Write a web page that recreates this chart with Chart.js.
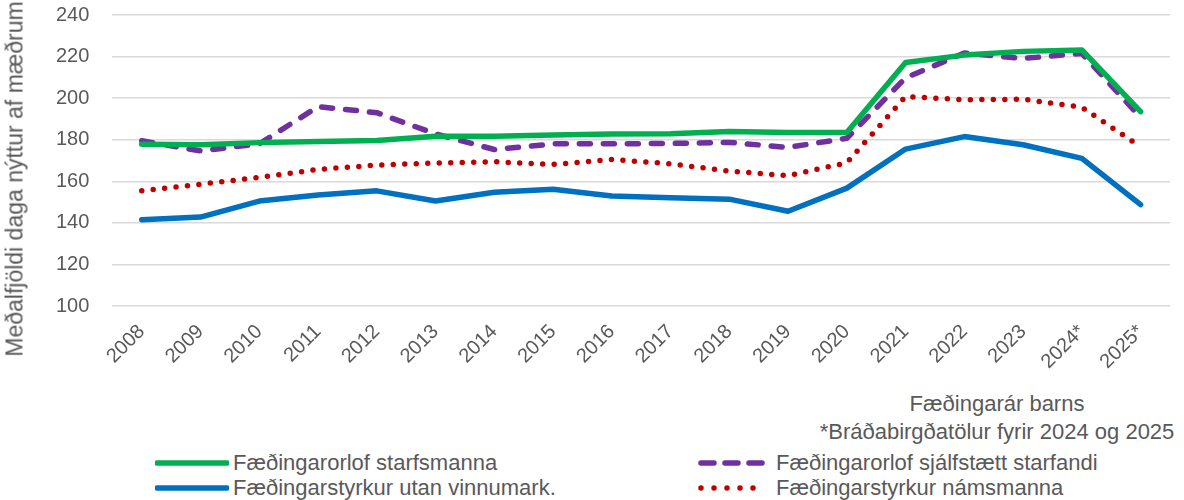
<!DOCTYPE html>
<html lang="is">
<head>
  <meta charset="UTF-8">
  <title>Fæðingarorlof – meðalfjöldi daga</title>
  <script src="https://cdn.jsdelivr.net/npm/chart.js"></script>
  <style>
    body {
      margin: 0;
      background: #fff;
      font-family: "Liberation Sans", Arial, sans-serif;
      color: #595959;
    }
    .wrap {
      position: relative;
      width: 1184px;
      height: 500px;
    }
    .chart-box {
      position: absolute;
      left: 0;
      top: 0;
      width: 1184px;
      height: 372px;
    }
    .ytitle {
      position: absolute;
      left: 15px;
      top: 179px;
      transform: translate(-50%, -50%) rotate(-90deg);
      font-size: 23px;
      white-space: nowrap;
    }
    .xtitle {
      position: absolute;
      left: 797px;
      width: 400px;
      top: 390px;
      text-align: center;
      font-size: 22px;
      line-height: 28px;
    }
    .leg {
      position: absolute;
      display: flex;
      align-items: center;
      font-size: 22px;
      white-space: nowrap;
    }
    .leg svg { margin-right: 4px; }
  </style>
</head>
<body>
  <div class="wrap">
    <div class="chart-box"><canvas id="chart"></canvas></div>
    <div class="ytitle">Meðalfjöldi daga nýttur af mæðrum</div>
    <div class="xtitle">Fæðingarár barns<br>*Bráðabirgðatölur fyrir 2024 og 2025</div>
    <div id="legend"></div>
  </div>

  <script>
    // Ár barns
    const years = ['2008','2009','2010','2011','2012','2013','2014','2015','2016','2017',
                   '2018','2019','2020','2021','2022','2023','2024*','2025*'];

    // Meðalfjöldi daga nýttur af mæðrum
    const starfsmenn  = [177.8,177.6,178.6,179.1,179.6,181.7,181.7,182.3,182.8,182.9,
                         184.0,183.5,183.5,217.1,220.7,222.5,223.2,193.5];
    const sjalfstaett = [179.5,174.6,178.0,195.9,193.0,182.8,175.3,178.0,178.0,178.2,
                         178.7,176.3,180.7,209.8,221.7,219.1,221.5,190.7];
    const utanVinnum  = [141.5,142.8,150.5,153.4,155.4,150.5,154.7,156.2,152.9,152.1,
                         151.4,145.6,156.7,175.5,181.5,177.6,171.0,148.8];
    const namsmenn    = [155.4,158.6,161.9,165.7,167.8,168.8,169.4,168.1,170.5,168.4,
                         164.9,162.7,168.9,200.8,199.2,199.5,195.6,176.6];

    const yTicks = { min: 100, max: 240, step: 20 };

    const series = [
      { label: 'Fæðingarorlof starfsmanna', data: starfsmenn, color: '#00b050', dash: [], left: 155, top: 450 },
      { label: 'Fæðingarorlof sjálfstætt starfandi', data: sjalfstaett, color: '#7030a0', dash: [11, 13], left: 698, top: 450 },
      { label: 'Fæðingarstyrkur utan vinnumark.', data: utanVinnum, color: '#0070c0', dash: [], left: 155, top: 475 },
      { label: 'Fæðingarstyrkur námsmanna', data: namsmenn, color: '#c00000', dash: [0, 11.5], left: 698, top: 475 }
    ];

    // skýringar (legend) í tveimur dálkum eins og í Excel
    const legend = document.getElementById('legend');
    series.forEach(s => {
      const el = document.createElement('div');
      el.className = 'leg';
      el.style.left = s.left + 'px';
      el.style.top = s.top + 'px';
      let dash = '';
      if (s.dash.length) dash = s.dash[0] === 0 ? 'stroke-dasharray="0 13"' : 'stroke-dasharray="13 11"';
      const x1 = s.dash.length ? 3 : 2, x2 = s.dash.length ? 68 : 72;
      el.innerHTML = `<svg width="74" height="26"><line x1="${x1}" y1="13" x2="${x2}" y2="13"
        stroke="${s.color}" stroke-width="5.5" stroke-linecap="round" ${dash}/></svg><span>${s.label}</span>`;
      legend.appendChild(el);
    });

    const ctx = document.getElementById('chart').getContext('2d');
    new Chart(ctx, {
      type: 'line',
      data: {
        labels: years,
        datasets: series.map(s => ({
          label: s.label,
          data: s.data,
          borderColor: s.color,
          backgroundColor: s.color,
          borderWidth: 5.5,
          borderDash: s.dash,
          borderCapStyle: 'round',
          borderJoinStyle: 'round',
          pointRadius: 0,
          tension: 0
        }))
      },
      options: {
        responsive: true,
        maintainAspectRatio: false,
        animation: false,
        layout: { padding: { top: 15, right: 14, left: 33, bottom: 0 } },
        plugins: {
          legend: { display: false },
          tooltip: { enabled: false }
        },
        scales: {
          x: {
            offset: true,
            grid: { display: false },
            border: { display: false },
            afterFit: (scale) => { scale.height = 66; },
            ticks: {
              color: '#595959',
              font: { family: 'Liberation Sans', size: 20 },
              minRotation: 45,
              maxRotation: 45,
              padding: 6
            }
          },
          y: {
            min: yTicks.min,
            max: yTicks.max,
            grid: { color: '#d9d9d9', lineWidth: 1.5, drawTicks: false },
            border: { display: false },
            // stórt bil frá tölum að rist, en ekki aukabil efst/neðst
            afterFit: (scale) => { scale.paddingTop = 10; scale.paddingBottom = 10; },
            ticks: {
              stepSize: yTicks.step,
              color: '#595959',
              font: { family: 'Liberation Sans', size: 20 },
              padding: 23
            }
          }
        }
      }
    });
  </script>
</body>
</html>
